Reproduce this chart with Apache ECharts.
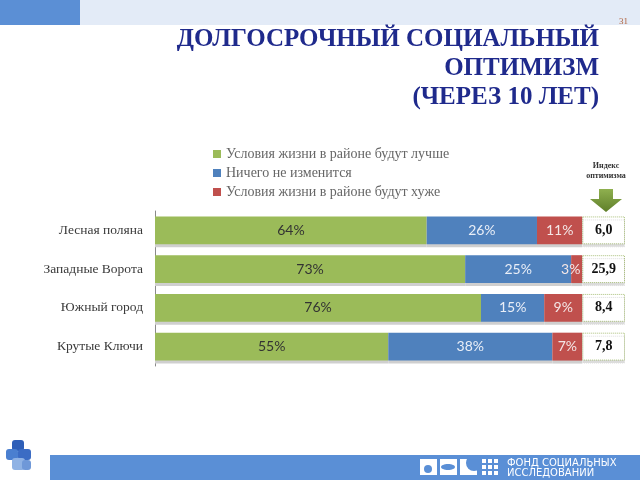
<!DOCTYPE html>
<html>
<head>
<meta charset="utf-8">
<script src="https://cdn.jsdelivr.net/npm/echarts@6/dist/echarts.min.js"></script>
<style>
  html, body { margin: 0; padding: 0; background: #fff; }
  #container { width: 640px; height: 480px; }
</style>
</head>
<body>
<div id="container"></div>
<script>
var districts = ['Лесная поляна', 'Западные Ворота', 'Южный город', 'Крутые Ключи'];
var seriesNames = [
  'Условия жизни в районе будут лучше',
  'Ничего не изменится',
  'Условия жизни в районе будут хуже'
];
var better = [63.6, 72.6, 76.3, 54.6];
var same = [25.8, 24.8, 14.8, 38.4];
var worse = [10.6, 2.6, 8.9, 7.0];
var optimismIndex = [6.0, 25.9, 8.4, 7.8];

var colors = ['#9bbb59', '#4f81bd', '#c0504d'];
var BOX = 10; // ширина ячейки индекса в единицах оси

var chart = echarts.init(document.getElementById('container'));

function pct(p) { return Math.round(p.value) + '%'; }

function barSeries(name, data, color, labelColor) {
  return {
    name: name,
    type: 'bar',
    stack: 'total',
    barCategoryGap: '28%',
    data: data.map(function (v) {
      // маленький сегмент: подпись чуть левее, как на слайде
      return v < 5 ? { value: v, label: { offset: [-6, 0] } } : v;
    }),
    itemStyle: {
      color: color,
      shadowColor: '#cfcfcf',
      shadowOffsetY: 3,
      shadowBlur: 0
    },
    label: {
      show: true,
      position: 'inside',
      formatter: pct,
      color: labelColor,
      fontFamily: 'Lato',
      fontSize: 14
    }
  };
}

function titleLine(text, y) {
  return {
    type: 'text', x: 599, y: y,
    style: { text: text, align: 'right', fill: '#1f2a8c', fontSize: 25, fontWeight: 'bold', fontFamily: 'Liberation Serif' }
  };
}

var option = {
  animation: false,
  textStyle: { fontFamily: 'Liberation Serif' },
  legend: {
    orient: 'vertical',
    left: 208,
    top: 142,
    itemWidth: 8,
    itemHeight: 8,
    itemGap: 5,
    icon: 'rect',
    data: seriesNames,
    textStyle: { fontFamily: 'Liberation Serif', fontSize: 14, color: '#666' }
  },
  grid: { left: 155, right: 15, top: 211, bottom: 114 },
  xAxis: {
    type: 'value',
    min: 0,
    max: 100 + BOX,
    show: false
  },
  yAxis: {
    type: 'category',
    inverse: true,
    data: districts,
    axisLine: { show: true, lineStyle: { color: '#8a8a8a' } },
    axisTick: { show: false },
    axisLabel: {
      margin: 12,
      fontFamily: 'Liberation Serif',
      fontSize: 13.5,
      color: '#3a3a3a'
    }
  },
  series: [
    barSeries(seriesNames[0], better, colors[0], '#333'),
    barSeries(seriesNames[1], same, colors[1], '#e9eef7'),
    barSeries(seriesNames[2], worse, colors[2], '#f3e6e6'),
    {
      name: 'Индекс оптимизма',
      type: 'bar',
      stack: 'total',
      data: optimismIndex.map(function () { return BOX; }),
      itemStyle: {
        color: '#fff',
        borderColor: '#a9bf7a',
        borderWidth: 1,
        borderType: 'dotted',
        shadowColor: '#dcdcdc',
        shadowOffsetY: 3,
        shadowBlur: 0
      },
      label: {
        show: true,
        position: 'inside',
        formatter: function (p) {
          return optimismIndex[p.dataIndex].toFixed(1).replace('.', ',');
        },
        fontFamily: 'Liberation Serif',
        fontWeight: 'bold',
        fontSize: 14,
        color: '#111'
      }
    }
  ],
  graphic: [
    // шапка
    { type: 'rect', shape: { x: 0, y: 0, width: 640, height: 25 }, style: { fill: '#e3ebf7' } },
    { type: 'rect', shape: { x: 0, y: 0, width: 80, height: 25 }, style: { fill: '#5b8fd5' } },
    { type: 'text', right: 12, top: 17, style: { text: '31', fill: '#b0603a', fontSize: 9, fontFamily: 'Liberation Serif' } },
    titleLine('ДОЛГОСРОЧНЫЙ СОЦИАЛЬНЫЙ', 27),
    titleLine('ОПТИМИЗМ', 56),
    titleLine('(ЧЕРЕЗ 10 ЛЕТ)', 85),
    // индекс оптимизма
    { type: 'text', x: 606, y: 161, style: { text: 'Индекс\nоптимизма', align: 'center', fill: '#333', fontSize: 8, fontWeight: 'bold', lineHeight: 10, fontFamily: 'Liberation Serif' } },
    {
      type: 'polygon',
      shape: { points: [[599, 189], [613, 189], [613, 199], [622, 199], [606, 212], [590, 199], [599, 199]] },
      style: {
        fill: new echarts.graphic.LinearGradient(0, 0, 0, 1, [
          { offset: 0, color: '#8fb04f' }, { offset: 1, color: '#5f7f2a' }
        ])
      }
    },
    // подвал
    { type: 'rect', shape: { x: 50, y: 455, width: 590, height: 25 }, style: { fill: '#5a8fd6' } },
    { type: 'rect', shape: { x: 420, y: 459, width: 17, height: 16 }, style: { fill: '#fff' } },
    { type: 'circle', shape: { cx: 428, cy: 469, r: 4 }, style: { fill: '#5a8fd6' } },
    { type: 'rect', shape: { x: 440, y: 459, width: 17, height: 16 }, style: { fill: '#fff' } },
    { type: 'ellipse', shape: { cx: 448, cy: 467, rx: 7, ry: 3 }, style: { fill: '#5a8fd6' } },
    { type: 'rect', shape: { x: 460, y: 459, width: 17, height: 16 }, style: { fill: '#fff' } },
    { type: 'circle', shape: { cx: 474, cy: 463, r: 8 }, style: { fill: '#5a8fd6' } },
    { type: 'rect', shape: { x: 482, y: 459, width: 4, height: 4 }, style: { fill: '#fff' } },
    { type: 'rect', shape: { x: 488, y: 459, width: 4, height: 4 }, style: { fill: '#fff' } },
    { type: 'rect', shape: { x: 494, y: 459, width: 4, height: 4 }, style: { fill: '#fff' } },
    { type: 'rect', shape: { x: 482, y: 465, width: 4, height: 4 }, style: { fill: '#fff' } },
    { type: 'rect', shape: { x: 488, y: 465, width: 4, height: 4 }, style: { fill: '#fff' } },
    { type: 'rect', shape: { x: 494, y: 465, width: 4, height: 4 }, style: { fill: '#fff' } },
    { type: 'rect', shape: { x: 482, y: 471, width: 4, height: 4 }, style: { fill: '#fff' } },
    { type: 'rect', shape: { x: 488, y: 471, width: 4, height: 4 }, style: { fill: '#fff' } },
    { type: 'rect', shape: { x: 494, y: 471, width: 4, height: 4 }, style: { fill: '#fff' } },
    { type: 'text', x: 507, y: 458, style: { text: 'ФОНД СОЦИАЛЬНЫХ\nИССЛЕДОВАНИЙ', fill: '#fff', fontSize: 10, lineHeight: 10, fontFamily: 'DejaVu Sans' } },
    // пазл
    { type: 'rect', shape: { x: 12, y: 440, width: 12, height: 11, r: 3 }, style: { fill: '#2f5fb8' } },
    { type: 'rect', shape: { x: 6, y: 449, width: 12, height: 11, r: 3 }, style: { fill: '#4a7fd0' } },
    { type: 'rect', shape: { x: 18, y: 449, width: 13, height: 11, r: 3 }, style: { fill: '#3b6cc4' } },
    { type: 'rect', shape: { x: 12, y: 458, width: 13, height: 12, r: 3 }, style: { fill: '#8fb2e4' } },
    { type: 'rect', shape: { x: 22, y: 460, width: 9, height: 10, r: 3 }, style: { fill: '#6f98d8' } }
  ]
};

chart.setOption(option);
</script>
</body>
</html>
